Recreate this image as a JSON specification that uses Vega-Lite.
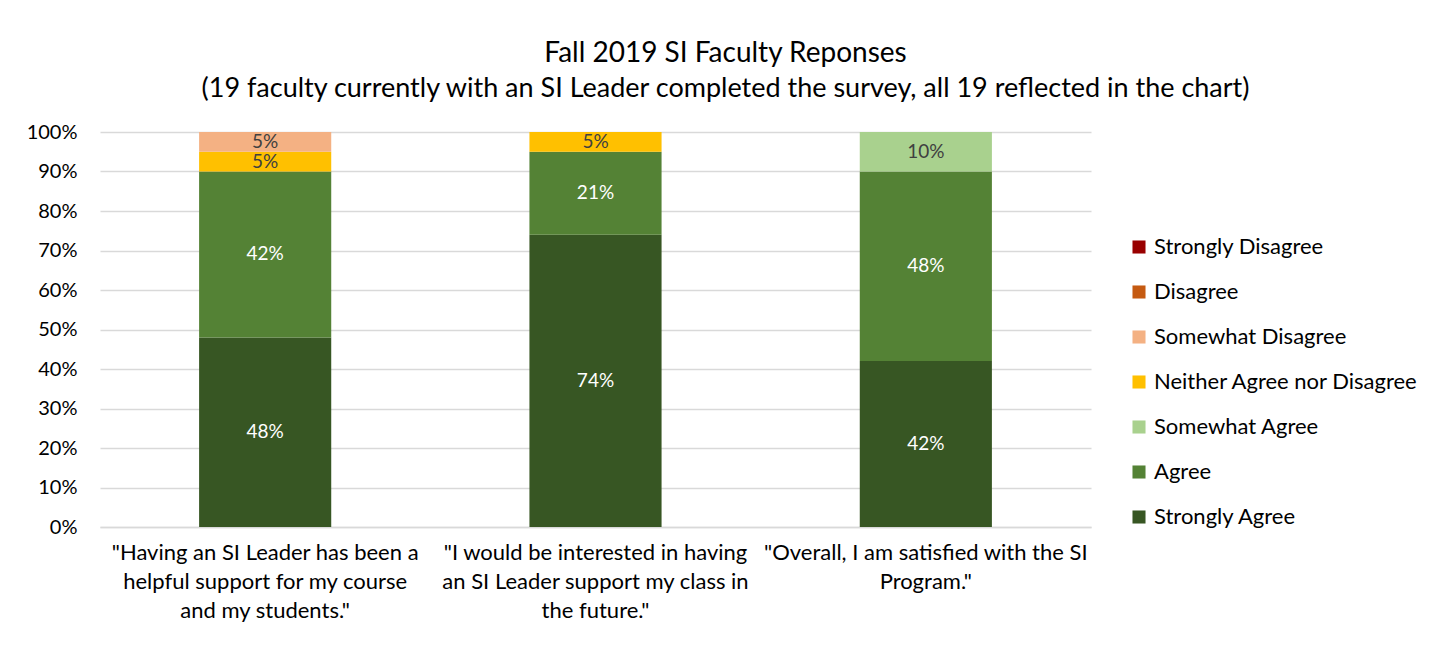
{
  "$schema": "https://vega.github.io/schema/vega-lite/v6.json",
  "autosize": "none",
  "width": 991,
  "height": 395,
  "padding": {"left": 100, "top": 132, "right": 357, "bottom": 125},
  "background": "white",
  "config": {
    "font": "Lato",
    "view": {"stroke": null},
    "axisY": {
      "title": null,
      "values": [0, 10, 20, 30, 40, 50, 60, 70, 80, 90, 100],
      "labelOverlap": false,
      "labelExpr": "datum.value + '%'",
      "labelFontSize": 20,
      "labelColor": "#000000",
      "labelPadding": 23,
      "ticks": false,
      "domain": false,
      "gridColor": "#d9d9d9",
      "gridWidth": 1.5
    }
  },
  "title": {
    "text": "Fall 2019 SI Faculty Reponses",
    "subtitle": "(19 faculty currently with an SI Leader completed the survey, all 19 reflected in the chart)",
    "fontSize": 28,
    "fontWeight": "normal",
    "color": "#000000",
    "subtitleFontSize": 27,
    "subtitleColor": "#000000",
    "subtitlePadding": 8,
    "offset": 20,
    "anchor": "middle",
    "dx": 130
  },
  "data": {
    "values": [
      {"question": "\"Having an SI Leader has been a|helpful support for my course|and my students.\"", "category": "Strongly Agree", "rank": 1, "value": 48, "label": "48%"},
      {"question": "\"Having an SI Leader has been a|helpful support for my course|and my students.\"", "category": "Agree", "rank": 2, "value": 42, "label": "42%"},
      {"question": "\"Having an SI Leader has been a|helpful support for my course|and my students.\"", "category": "Neither Agree nor Disagree", "rank": 4, "value": 5, "label": "5%"},
      {"question": "\"Having an SI Leader has been a|helpful support for my course|and my students.\"", "category": "Somewhat Disagree", "rank": 5, "value": 5, "label": "5%"},
      {"question": "\"I would be interested in having|an SI Leader support my class in|the future.\"", "category": "Strongly Agree", "rank": 1, "value": 74, "label": "74%"},
      {"question": "\"I would be interested in having|an SI Leader support my class in|the future.\"", "category": "Agree", "rank": 2, "value": 21, "label": "21%"},
      {"question": "\"I would be interested in having|an SI Leader support my class in|the future.\"", "category": "Neither Agree nor Disagree", "rank": 4, "value": 5, "label": "5%"},
      {"question": "\"Overall, I am satisfied with the SI|Program.\"", "category": "Strongly Agree", "rank": 1, "value": 42, "label": "42%"},
      {"question": "\"Overall, I am satisfied with the SI|Program.\"", "category": "Agree", "rank": 2, "value": 48, "label": "48%"},
      {"question": "\"Overall, I am satisfied with the SI|Program.\"", "category": "Somewhat Agree", "rank": 3, "value": 10, "label": "10%"}
    ]
  },
  "transform": [
    {"stack": "value", "groupby": ["question"], "sort": [{"field": "rank", "order": "ascending"}], "as": ["y0", "y1"]}
  ],
  "encoding": {
    "x": {
      "field": "question",
      "type": "nominal",
      "sort": null,
      "scale": {"paddingInner": 0.6, "paddingOuter": 0.3},
      "axis": {
        "title": null,
        "labelAngle": 0,
        "labelExpr": "split(datum.label, '|')",
        "labelFontSize": 22,
        "labelColor": "#000000",
        "labelLineHeight": 29,
        "labelPadding": 15,
        "labelBaseline": "top",
        "ticks": false,
        "domainColor": "#d9d9d9",
        "domainWidth": 1.5,
        "labelLimit": 400
      }
    }
  },
  "layer": [
    {
      "mark": {"type": "bar"},
      "encoding": {
        "y": {
          "field": "y0",
          "type": "quantitative",
          "scale": {"domain": [0, 100]},
          "title": null
        },
        "y2": {"field": "y1"},
        "color": {
          "field": "category",
          "type": "nominal",
          "scale": {
            "domain": ["Strongly Disagree", "Disagree", "Somewhat Disagree", "Neither Agree nor Disagree", "Somewhat Agree", "Agree", "Strongly Agree"],
            "range": ["#990000", "#C55A11", "#F4B183", "#FFC000", "#A9D18E", "#548235", "#375623"]
          },
          "legend": {
            "title": null,
            "orient": "none",
            "legendX": 1028,
            "legendY": 104,
            "symbolType": "square",
            "symbolSize": 170,
            "symbolStrokeWidth": 0,
            "labelFontSize": 22,
            "labelColor": "#000000",
            "rowPadding": 23,
            "labelOffset": 4,
            "labelLimit": 400
          }
        }
      }
    },
    {
      "transform": [
        {"fold": ["y0", "y1"], "as": ["edge", "pos"]},
        {"aggregate": [{"op": "mean", "field": "pos", "as": "mid"}], "groupby": ["question", "category", "label"]}
      ],
      "mark": {"type": "text", "fontSize": 19, "baseline": "middle"},
      "encoding": {
        "y": {"field": "mid", "type": "quantitative", "title": null},
        "text": {"field": "label"},
        "color": {
          "condition": {"test": "datum.category === 'Agree' || datum.category === 'Strongly Agree'", "value": "#ffffff"},
          "value": "#404040"
        }
      }
    }
  ]
}
